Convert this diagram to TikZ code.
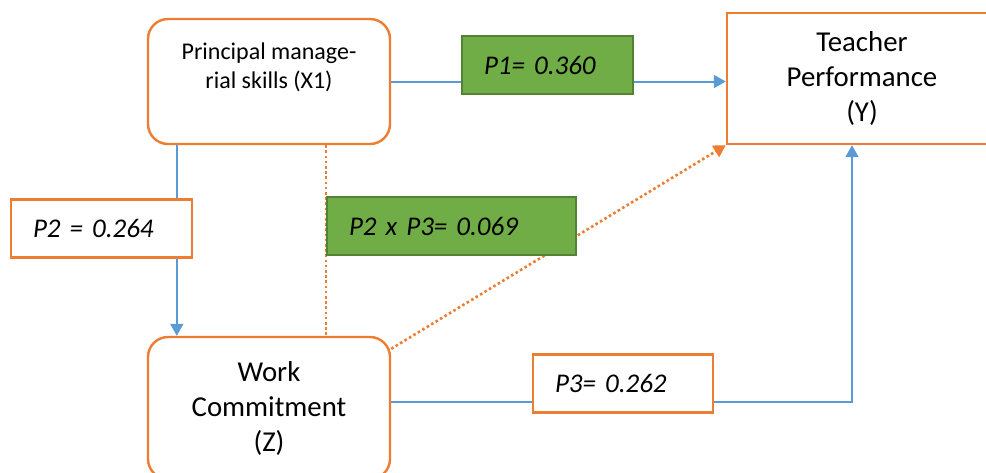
\documentclass[tikz,border=0pt]{standalone}
\usepackage{fontspec}
\setmainfont{Carlito}
\usetikzlibrary{arrows.meta,backgrounds,positioning}
\definecolor{borange}{HTML}{ED7D31}
\definecolor{bblue}{HTML}{5B9BD5}
\definecolor{bgreen}{HTML}{70AD47}
\definecolor{dgreen}{HTML}{548235}

\begin{document}
\begin{tikzpicture}[x=0.5pt,y=-0.5pt,
    var/.style={draw=borange,line width=1.2pt,fill=white,align=center,inner sep=0pt,
      font=\fontsize{14.4}{17.5}\selectfont},
    rvar/.style={var,rounded corners=10pt},
    coef/.style={draw=borange,line width=1.2pt,fill=white,align=left,inner xsep=11pt,
      inner ysep=0pt,minimum height=29pt,font=\fontsize{13.5}{16}\selectfont\itshape},
    gcoef/.style={coef,draw=dgreen,fill=bgreen},
    effect/.style={bblue,line width=1pt},
    tip/.style={-{Triangle[length=6pt,width=6.5pt]}},
    indirect/.style={borange,line width=1.3pt,dash pattern=on 1.3pt off 1.3pt},
  ]
  \useasboundingbox (0,0) rectangle (986,472);

  % variables
  \node (x1) [rvar,minimum width=121pt,minimum height=62.5pt] at (269,81.5) {};
  \node (x1txt) [align=center,font=\fontsize{12}{14.5}\selectfont]
    at ([yshift=7.25pt]x1.center) {Principal manage-\\rial skills (X1)};
  \node (y) [var,minimum width=135pt,minimum height=65.5pt] at (862,78.5)
    {Teacher\\Performance\\(Y)};
  \node (z) [rvar,minimum width=121pt,minimum height=71pt] at (269,408)
    {Work\\Commitment\\(Z)};

  % path coefficients
  \node (p1) [gcoef,text width=63.5pt] at (547.5,65) {P1= 0.360};
  \node (p2) [coef,text width=68.5pt] at (101.5,228.5) {P2 = 0.264};
  \node (p23) [gcoef,text width=102.5pt] at (451.5,226) {P2 x P3= 0.069};
  \node (p3) [coef,text width=68pt] at (623,383.5) {P3= 0.262};

  \begin{scope}[on background layer]
    \draw[effect,tip] (x1.east) -- (x1.east -| y.west);
    \draw[effect,tip] ([xshift=15pt]x1.south west) -- ([xshift=15pt]z.north west);
    \draw[effect,tip] ([yshift=3pt]z.east) -| ([xshift=-5pt]y.south);
    \draw[indirect] (p23.west |- x1.south) -- (p23.west |- z.north);
    \draw[indirect,tip] ([yshift=-6.5pt]z.north east) -- (y.south west);
  \end{scope}
\end{tikzpicture}
\end{document}
